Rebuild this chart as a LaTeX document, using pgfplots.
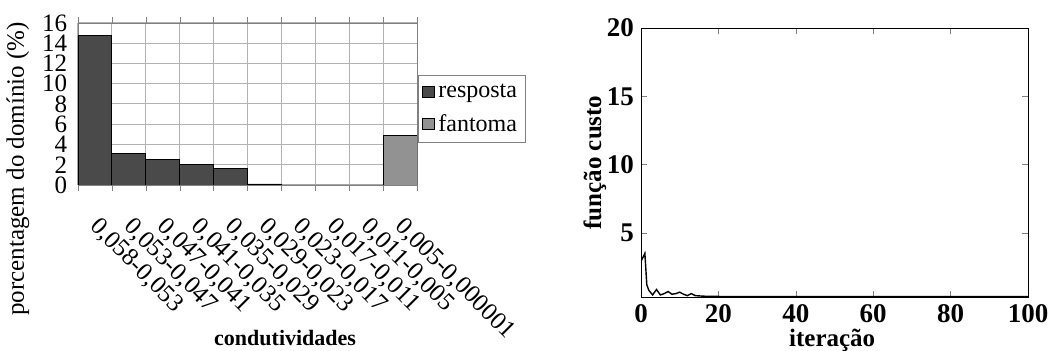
\documentclass[border=0pt]{standalone}
\usepackage{fontspec}
\setmainfont{Liberation Serif}
\usepackage{pgfplots}
\pgfplotsset{compat=1.18}
\definecolor{darkbar}{HTML}{4A4A4A}
\definecolor{lightbar}{HTML}{929292}
\begin{document}
\begin{tikzpicture}[x=1pt,y=1pt]
\useasboundingbox (0,0) rectangle (524.5,175.5);
\begin{axis}[
  at={(39pt,83pt)}, anchor=south west,
  scale only axis, width=169.5pt, height=81pt,
  xmin=0, xmax=10, ymin=0, ymax=16,
  ytick={0,2,...,16},
  xtick={0.5,1.5,...,9.5},
  xticklabels={{0,058-0,053},{0,053-0,047},{0,047-0,041},{0,041-0,035},{0,035-0,029},{0,029-0,023},{0,023-0,017},{0,017-0,011},{0,011-0,005},{0,005-0,000001}},
  minor xtick={0,...,10},
  xminorgrids, ymajorgrids,
  grid style={gray!60, line width=0.5pt},
  major x tick style={draw=none},
  ytick style={draw=none},
  minor x tick style={gray},
  minor tick length=3pt, tick align=outside,
  axis line style={gray},
  /pgf/number format/assume math mode=true,
  xticklabel style={yshift=-11pt, xshift=3pt, rotate=-45, anchor=north west, font=\fontsize{12.5}{13}\selectfont, inner sep=0pt},
  yticklabel style={font=\fontsize{12.5}{12}\selectfont, inner sep=1pt},
  ylabel={porcentagem do domínio (\%)},
  ylabel style={at={(axis description cs:-0.177,0.099)}, anchor=center, font=\fontsize{12.5}{13}\selectfont},
  xlabel={condutividades},
  xlabel style={at={(axis description cs:0.611,-0.944)}, anchor=center, font=\fontsize{11}{12}\selectfont\bfseries},
  ybar, bar width=1,
  legend image code/.code={\draw[#1] (0pt,-2.8pt) rectangle (5.6pt,2.8pt);},
  legend style={at={(1.003,0.47)}, anchor=west, draw=gray, font=\fontsize{12}{13}\selectfont, cells={anchor=west}, inner xsep=2pt, inner ysep=2pt, row sep=3pt, /tikz/every even column/.append style={column sep=1pt}},
]
\addplot[fill=darkbar, draw=black, bar shift=0pt] coordinates {(0.5,14.75) (1.5,3.15) (2.5,2.55) (3.5,2.0) (4.5,1.6) (5.5,0.1) (6.5,0) (7.5,0) (8.5,0)};
\addplot[fill=lightbar, draw=black, bar shift=0pt] coordinates {(9.5,4.85)};
\legend{resposta,fantoma}
\end{axis}
\begin{axis}[
  at={(320.5pt,27pt)}, anchor=south west,
  scale only axis, width=193.5pt, height=134.5pt,
  xmin=0, xmax=100, ymin=0.3, ymax=20,
  xtick={0,20,...,100}, ytick={5,10,15,20},
  tick align=inside, tick pos=both, major tick length=3pt,
  /pgf/number format/assume math mode=true,
  ticklabel style={font=\fontsize{13.5}{14}\selectfont\bfseries},
  xlabel={iteração}, ylabel={função custo},
  xlabel style={at={(axis description cs:0.494,-0.16)}, anchor=center, font=\fontsize{12.5}{13}\selectfont\bfseries},
  ylabel style={at={(axis description cs:-0.119,0.5)}, anchor=center, font=\fontsize{12.5}{13}\selectfont\bfseries},
]
\addplot[black, line width=0.7pt] coordinates {(0,2.9)(1,3.5)(1.5,1.2)(2,0.8)(3,0.45)(4,0.85)(5,0.45)(6,0.55)(7,0.7)(8,0.5)(9,0.55)(10,0.65)(11,0.5)(12,0.4)(13,0.55)(14,0.4)(15,0.38)(16,0.36)(18,0.35)(20,0.34)(30,0.33)(40,0.33)(50,0.33)(60,0.33)(70,0.33)(80,0.33)(90,0.33)(100,0.33)};
\end{axis}
\end{tikzpicture}
\end{document}
